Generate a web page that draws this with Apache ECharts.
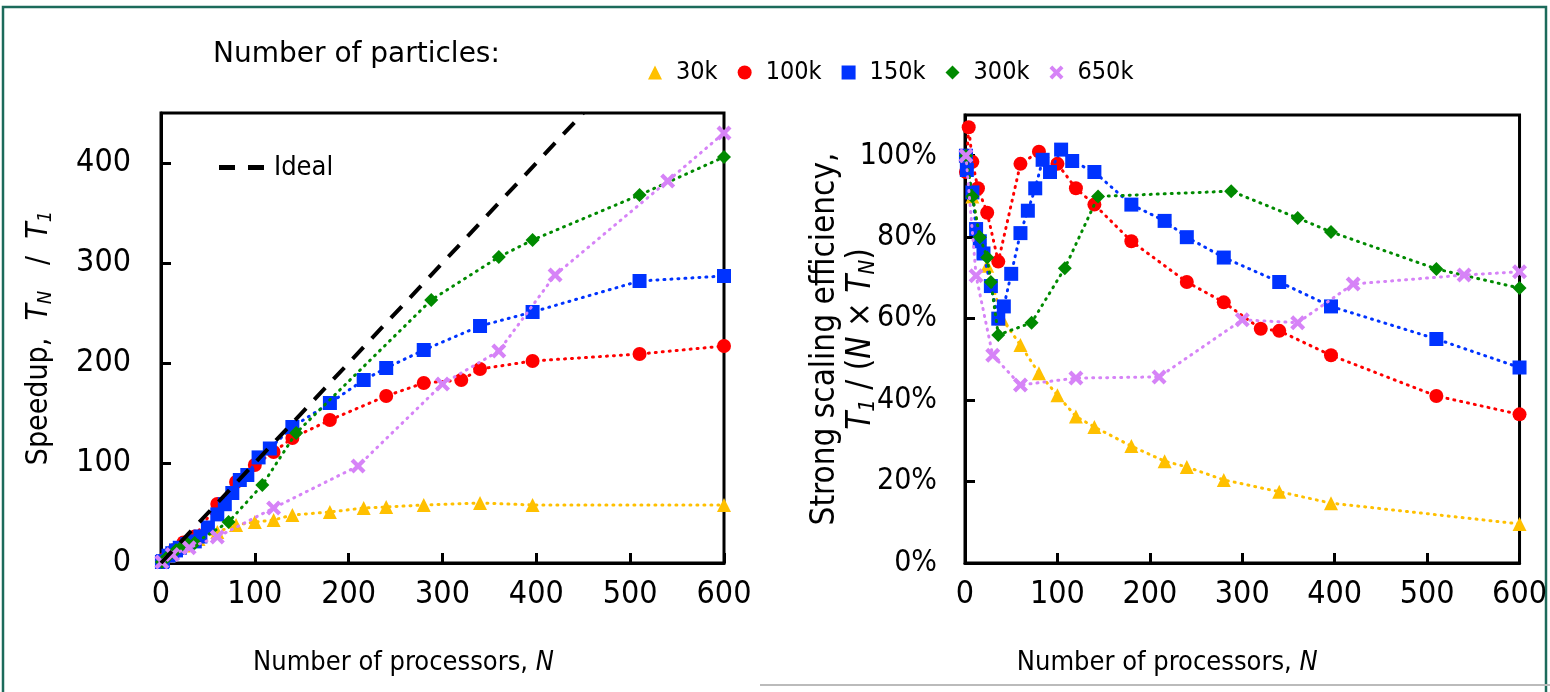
<!DOCTYPE html>
<html>
<head>
<meta charset="utf-8">
<script src="https://cdn.jsdelivr.net/npm/echarts@6/dist/echarts.min.js"></script>
<style>
  html, body { margin: 0; padding: 0; background: #fff; }
  #chart { width: 1550px; height: 692px; }
</style>
</head>
<body>
<div id="chart"></div>
<script>
// series names
const names = ['30k', '100k', '150k', '300k', '650k']
const colors = ['#FFC000', '#FF0000', '#0033FF', '#008A00', '#D683F7']

// 30k
const n30 = [1, 8, 16, 24, 40, 60, 80, 100, 120, 140, 180, 216, 240, 280, 340, 396, 600]
const sp30 = [1, 7, 13, 17.5, 24, 31, 38, 41, 43, 48, 51, 55, 56, 58, 60, 58, 58]
const ef30 = [100, 90, 80, 73, 60, 53.5, 46.6, 41.2, 36, 33.4, 28.7, 25, 23.6, 20.4, 17.5, 14.7, 9.6]
// 100k
const n100 = [1, 4, 8, 14, 24, 36, 60, 80, 100, 120, 140, 180, 240, 280, 320, 340, 396, 510, 600]
const sp100 = [1, 4.3, 7.9, 12.9, 20.6, 26.6, 59, 81, 98, 111, 125, 143, 167, 180, 183, 194, 202, 209, 217]
const ef100 = [96, 107, 98.5, 92, 86, 74, 98, 101, 98, 92, 88, 79, 69, 64, 57.5, 57, 51, 41, 36.5]
// 150k
const n150 = [1, 2, 8, 12, 16, 20, 28, 36, 42, 50, 60, 68, 76, 84, 92, 104, 116, 140, 180, 216, 240, 280, 340, 396, 510, 600]
const sp150 = [1, 1.9, 7.3, 9.8, 12.6, 15.2, 19, 21.6, 26.5, 35.5, 48.6, 58.8, 70, 83, 88, 105.6, 114.5, 136, 160, 183, 195, 213, 237, 251, 282, 287]
const ef150 = [100, 96.5, 91, 82, 79, 76, 68, 60, 63, 71, 81, 86.5, 92, 99, 96, 101.5, 98.7, 96, 88, 84, 80, 75, 69, 63, 55, 48]
// 300k
const n300 = [1, 8, 16, 24, 28, 36, 72, 108, 144, 288, 360, 396, 510, 600]
const sp300 = [1, 7.2, 12.8, 18, 19.3, 20, 41, 78, 130, 263, 306, 323, 368, 406]
const ef300 = [100, 90, 80, 75, 69, 56, 59, 72.4, 90, 91.3, 84.7, 81.3, 72.2, 67.5]
// 650k
const n650 = [1, 12, 30, 60, 120, 210, 300, 360, 420, 540, 600]
const sp650 = [1, 8.5, 15.3, 26, 55, 97, 179, 212, 288, 382, 430]
const ef650 = [100, 70.5, 51, 43.7, 45.4, 45.7, 59.7, 59, 68.5, 70.7, 71.5]

// ideal speedup line
const idealN = [0, 450]
const idealSp = [0, 450]

const crossPath = 'path://M0,2 L2,0 L5,3 L8,0 L10,2 L7,5 L10,8 L8,10 L5,7 L2,10 L0,8 L3,5 Z'
const dashIcon = 'path://M0,0 L16,0 L16,5 L0,5 Z M29,0 L45,0 L45,5 L29,5 Z'
const symbols = ['triangle', 'circle', 'rect', 'diamond', crossPath]
const ns = [n30, n100, n150, n300, n650]
const sps = [sp30, sp100, sp150, sp300, sp650]
const efs = [ef30, ef100, ef150, ef300, ef650]

const font = '"DejaVu Sans Condensed", "DejaVu Sans", sans-serif'
const makeRich = (size) => ({
  a: { fontSize: size, fontFamily: font, color: '#000' },
  i: { fontSize: size, fontFamily: font, fontStyle: 'italic', color: '#000' },
  s: { fontSize: Math.round(size * 0.66), fontFamily: font, fontStyle: 'italic', color: '#000', padding: [Math.round(size * 0.45), 0, 0, 0] }
})

const pair = (xs, ys) => xs.map((x, i) => [x, ys[i]])

const makeAxisX = (idx, shift) => ({
  gridIndex: idx,
  type: 'value',
  min: 0,
  max: 600,
  interval: 100,
  name: '{a|Number of processors, }{i|N}',
  nameLocation: 'middle',
  nameGap: 86,
  nameMoveOverlap: false,
  nameTextStyle: { rich: makeRich(27), padding: [0, shift, 0, 0] },
  axisLine: { lineStyle: { color: '#000', width: 3 } },
  axisTick: { inside: true, length: 10, lineStyle: { color: '#000', width: 3 } },
  axisLabel: { fontSize: 32, fontFamily: font, color: '#000', margin: 16 },
  splitLine: { show: false }
})

let series = []
names.forEach((nm, k) => {
  const base = {
    name: nm,
    type: 'line',
    symbol: symbols[k],
    symbolSize: k === 4 ? 15 : 14,
    itemStyle: { color: colors[k] },
    lineStyle: { color: colors[k], width: 3, type: [1, 6], cap: 'round' },
    z: 3 + k
  }
  series.push(Object.assign({}, base, { xAxisIndex: 0, yAxisIndex: 0, data: pair(ns[k], sps[k]) }))
  series.push(Object.assign({}, base, { xAxisIndex: 1, yAxisIndex: 1, data: pair(ns[k], efs[k]) }))
})
series.push({
  name: 'Ideal',
  type: 'line',
  xAxisIndex: 0,
  yAxisIndex: 0,
  symbol: 'none',
  data: pair(idealN, idealSp),
  lineStyle: { color: '#000', width: 4, type: [16, 12] },
  itemStyle: { color: '#000' },
  z: 20
})

const chart = echarts.init(document.getElementById('chart'))
chart.setOption({
  animation: false,
  backgroundColor: '#fff',
  title: {
    text: 'Number of particles:',
    left: 208,
    top: 36,
    textStyle: { fontSize: 28, fontWeight: 'normal', fontFamily: '"DejaVu Sans", sans-serif', color: '#000' }
  },
  legend: [
    {
      data: names.map((nm, k) => ({ name: nm, icon: symbols[k] })),
      left: 643,
      top: 55,
      itemWidth: 14,
      itemHeight: 14,
      itemGap: 20,
      textStyle: { fontSize: 25, fontFamily: font, color: '#000', padding: [0, 0, 0, 9] }
    },
    {
      data: [{ name: 'Ideal', icon: dashIcon }],
      left: 214,
      top: 149,
      itemWidth: 45,
      itemHeight: 5,
      textStyle: { fontSize: 27, fontFamily: font, color: '#000', padding: [0, 0, 0, 5] }
    }
  ],
  graphic: [
    {
      type: 'rect',
      shape: { x: 3, y: 7, width: 1543, height: 720 },
      style: { fill: 'none', stroke: '#1C6B5B', lineWidth: 2.5 },
      silent: true
    },
    {
      type: 'line',
      shape: { x1: 760, y1: 685, x2: 1550, y2: 685 },
      style: { stroke: '#bbb', lineWidth: 2 },
      silent: true
    }
  ],
  grid: [
    { left: 161, top: 113, width: 563, height: 450, show: true, borderColor: '#000', borderWidth: 3, backgroundColor: 'transparent' },
    { left: 965, top: 115, width: 555, height: 448, show: true, borderColor: '#000', borderWidth: 3, backgroundColor: 'transparent' }
  ],
  xAxis: [makeAxisX(0, 78), makeAxisX(1, 150)],
  yAxis: [
    {
      gridIndex: 0,
      type: 'value',
      min: 0,
      max: 450,
      interval: 100,
      name: '{a|Speedup,  }{i|T}{s|N}{a|   /  }{i|T}{s|1}',
      nameLocation: 'middle',
      nameRotate: 90,
      nameGap: 105,
      nameMoveOverlap: false,
      nameTextStyle: { rich: makeRich(30) },
      axisLine: { lineStyle: { color: '#000', width: 3 } },
      axisTick: { inside: true, length: 10, lineStyle: { color: '#000', width: 3 } },
      axisLabel: { fontSize: 32, fontFamily: font, color: '#000', margin: 30, showMaxLabel: false },
      splitLine: { show: false }
    },
    {
      gridIndex: 1,
      type: 'value',
      min: 0,
      max: 110,
      interval: 20,
      name: '{a|Strong scaling efficiency,}\n{i|T}{s|1}{a| / (}{i|N}{a| × }{i|T}{s|N}{a|)}',
      nameLocation: 'middle',
      nameRotate: 90,
      nameGap: 86,
      nameMoveOverlap: false,
      nameTextStyle: { rich: makeRich(33), lineHeight: 36 },
      axisLine: { lineStyle: { color: '#000', width: 3 } },
      axisTick: { inside: true, length: 10, lineStyle: { color: '#000', width: 3 } },
      axisLabel: { fontSize: 30, fontFamily: font, color: '#000', margin: 28, formatter: '{value}%', showMaxLabel: false },
      splitLine: { show: false }
    }
  ],
  series: series
})
</script>
</body>
</html>
